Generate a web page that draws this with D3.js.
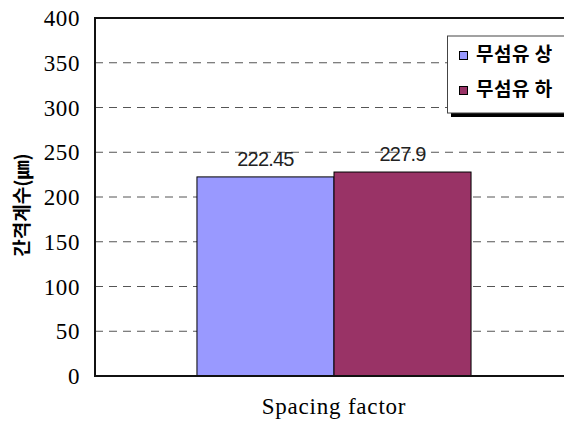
<!DOCTYPE html>
<html>
<head>
<meta charset="utf-8">
<script src="https://cdn.jsdelivr.net/npm/d3@7"></script>
<style>
  html, body { margin: 0; padding: 0; background: #fff; }
  svg { display: block; }
  .serif-label { font-family: "Liberation Serif", "Times New Roman", serif; }
</style>
</head>
<body>
<svg id="chart" width="564" height="421"></svg>
<script>
// Chart data
const categories = ["Spacing factor"];
const seriesNames = ["무섬유 상", "무섬유 하"];
const seriesValues = [222.45, 227.9];
const seriesColors = ["#9999FF", "#993366"];
const yTicks = [0, 50, 100, 150, 200, 250, 300, 350, 400];
const yTitle = "간격계수(㎛)";

const svg = d3.select("#chart");
const margin = { left: 95, top: 18, right: -9, bottom: 45 };
const W = 564, H = 421;
const plotW = W - margin.left - margin.right;
const plotH = H - margin.top - margin.bottom;

const y = d3.scaleLinear().domain([0, 400]).range([margin.top + plotH, margin.top]);
const x0 = d3.scaleBand().domain(categories).range([margin.left, margin.left + plotW]).paddingInner(0).paddingOuter(0.372);
const x1 = d3.scaleBand().domain(seriesNames).range([0, x0.bandwidth()]);

// Dashed gridlines
svg.append("g")
  .selectAll("line")
  .data(yTicks.filter(d => d > 0 && d < 400))
  .join("line")
  .attr("x1", margin.left).attr("x2", margin.left + plotW)
  .attr("y1", d => y(d)).attr("y2", d => y(d))
  .attr("stroke", "#555").attr("stroke-width", 1)
  .attr("stroke-dasharray", "8,6");

// Bars with value labels
const g = svg.append("g");
seriesNames.forEach((name, i) => {
  const cx = x0(categories[0]) + x1(name);
  g.append("rect")
    .attr("x", cx).attr("y", y(seriesValues[i]))
    .attr("width", x1.bandwidth())
    .attr("height", y(0) - y(seriesValues[i]))
    .attr("fill", seriesColors[i])
    .attr("stroke", "#000").attr("stroke-width", 1);
  g.append("text")
    .attr("x", cx + x1.bandwidth() / 2)
    .attr("y", y(seriesValues[i]) - 11)
    .attr("text-anchor", "middle")
    .attr("font-family", "Liberation Sans, Arial, sans-serif")
    .attr("font-size", 20)
    .attr("letter-spacing", -0.8)
    .attr("fill", "#222")
    .text(seriesValues[i]);
});

// Plot frame
svg.append("rect")
  .attr("x", margin.left).attr("y", margin.top)
  .attr("width", plotW).attr("height", plotH)
  .attr("fill", "none").attr("stroke", "#111").attr("stroke-width", 2);

// Y axis tick labels
const yAxis = d3.axisLeft(y).tickValues(yTicks).tickSize(0).tickPadding(15);
const ya = svg.append("g")
  .attr("transform", `translate(${margin.left},0)`)
  .call(yAxis)
  .attr("font-family", null)
  .attr("class", "serif-label")
  .attr("font-size", 23);
ya.select(".domain").remove();
ya.selectAll("text")
  .attr("fill", "#000")
  .attr("letter-spacing", 0.6)
  .attr("dy", "0.33em");

// X axis category label
svg.append("text")
  .attr("class", "serif-label")
  .attr("x", x0(categories[0]) + x0.bandwidth() / 2)
  .attr("y", 414)
  .attr("text-anchor", "middle")
  .attr("font-size", 23)
  .attr("letter-spacing", 0.8)
  .attr("fill", "#000")
  .text(categories[0]);

// Y axis title
svg.append("text")
  .attr("transform", "translate(29,205) rotate(-90)")
  .attr("text-anchor", "middle")
  .attr("font-family", "Noto Sans CJK KR, sans-serif")
  .attr("font-size", 19)
  .attr("font-weight", "bold")
  .attr("fill", "#000")
  .text(yTitle);

// Legend with drop shadow
const lg = svg.append("g");
lg.append("rect").attr("x", 451).attr("y", 40).attr("width", 130).attr("height", 77).attr("fill", "#000");
lg.append("rect").attr("x", 447.5).attr("y", 36).attr("width", 130).attr("height", 77)
  .attr("fill", "#fff").attr("stroke", "#444").attr("stroke-width", 1);
seriesNames.forEach((name, i) => {
  const yy = 51 + i * 35;
  lg.append("rect").attr("x", 459.5).attr("y", yy + 0.5).attr("width", 8).attr("height", 8)
    .attr("fill", seriesColors[i]).attr("stroke", "#000").attr("stroke-width", 1);
  lg.append("text")
    .attr("x", 476).attr("y", yy + 10)
    .attr("font-family", "Noto Sans CJK KR, sans-serif")
    .attr("font-size", 19)
    .attr("font-weight", "bold")
    .attr("letter-spacing", 0.5)
    .attr("fill", "#000")
    .text(name);
});
</script>
</body>
</html>
